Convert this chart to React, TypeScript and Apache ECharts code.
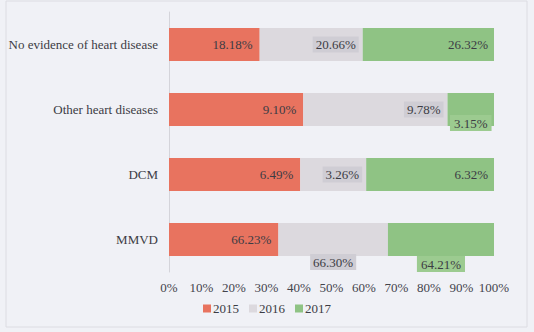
import React, { useEffect, useRef } from "react";
import * as echarts from "echarts";

const categories = ["MMVD", "DCM", "Other heart diseases", "No evidence of heart disease"];
const years = ["2015", "2016", "2017"];
const v2015 = [66.23, 6.49, 9.1, 18.18];
const v2016 = [66.3, 3.26, 9.78, 20.66];
const v2017 = [64.21, 6.32, 3.15, 26.32];
const xTicks = [0, 10, 20, 30, 40, 50, 60, 70, 80, 90, 100];

const colors = ["#e8735f", "#dcd9de", "#8fc384"];
const FONT = "Liberation Serif";
const FS = 13;

export default function App() {
  const ref = useRef<HTMLDivElement>(null);
  useEffect(() => {
    if (!ref.current) return;
    const chart = echarts.init(ref.current, null, { renderer: "svg" });
    const raw = [v2015, v2016, v2017];
    const totals = categories.map((_, i) => raw[0][i] + raw[1][i] + raw[2][i]);

    const baseLabel = {
      show: true,
      fontFamily: FONT,
      fontSize: FS,
      color: "#3c3c44",
    };
    const labelFor = (s: number, c: number) => {
      if (s === 0) return { ...baseLabel, position: "insideRight", distance: 7 };
      if (s === 1) {
        const box = { backgroundColor: "#cfcdd4", padding: [2, 3, 1, 3] };
        if (c === 0) return { ...baseLabel, ...box, position: "bottom", distance: -2 };
        return { ...baseLabel, ...box, position: "insideRight", distance: 4 };
      }
      const gbox = { backgroundColor: "#9ccb90", padding: [2, 4, 1, 4] };
      if (c === 0) return { ...baseLabel, ...gbox, position: "bottom", distance: 0 };
      if (c === 2) return { ...baseLabel, ...gbox, position: "bottom", distance: -11 };
      return { ...baseLabel, position: "insideRight", distance: 6 };
    };

    const series = years.map((y, s) => ({
      name: y,
      type: "bar",
      stack: "total",
      barWidth: 33,
      itemStyle: { color: colors[s] },
      data: categories.map((_, c) => ({
        value: (raw[s][c] / totals[c]) * 100,
        label: {
          ...labelFor(s, c),
          formatter: () => raw[s][c].toFixed(2) + "%",
        },
      })),
    }));

    chart.setOption({
      animation: false,
      backgroundColor: "#f0f1f6",
      textStyle: { fontFamily: FONT },
      graphic: [
        {
          type: "rect",
          shape: { x: 6, y: 1, width: 521, height: 326 },
          style: { fill: "none", stroke: "#dcdce2", lineWidth: 1 },
          silent: true,
        },
      ],
      grid: { left: 169, right: 40, top: 12, bottom: 60, containLabel: false, outerBoundsMode: "none" },
      legend: {
        bottom: 12,
        left: "center",
        itemWidth: 8,
        itemHeight: 8,
        itemGap: 10,
        icon: "rect",
        textStyle: { fontFamily: FONT, fontSize: FS, color: "#3c3c44", padding: [0, 0, 0, -3] },
        data: years,
      },
      xAxis: {
        type: "value",
        min: 0,
        max: 100,
        interval: 10,
        axisLine: { show: false },
        axisTick: { show: false },
        splitLine: { show: false },
        axisLabel: {
          fontFamily: FONT,
          fontSize: FS,
          color: "#44444c",
          margin: 9,
          hideOverlap: false,
          formatter: (v: number) => (xTicks.includes(v) ? v + "%" : ""),
        },
      },
      yAxis: {
        type: "category",
        data: categories,
        axisLine: { show: true, lineStyle: { color: "#d4d4da" } },
        axisTick: { show: false },
        axisLabel: { fontFamily: FONT, fontSize: FS, color: "#3c3c44", margin: 11 },
      },
      series,
    });
    return () => chart.dispose();
  }, []);
  return (
    <div
      ref={ref}
      style={{ position: "absolute", left: 0, top: 0, width: 534, height: 332 }}
    />
  );
}
